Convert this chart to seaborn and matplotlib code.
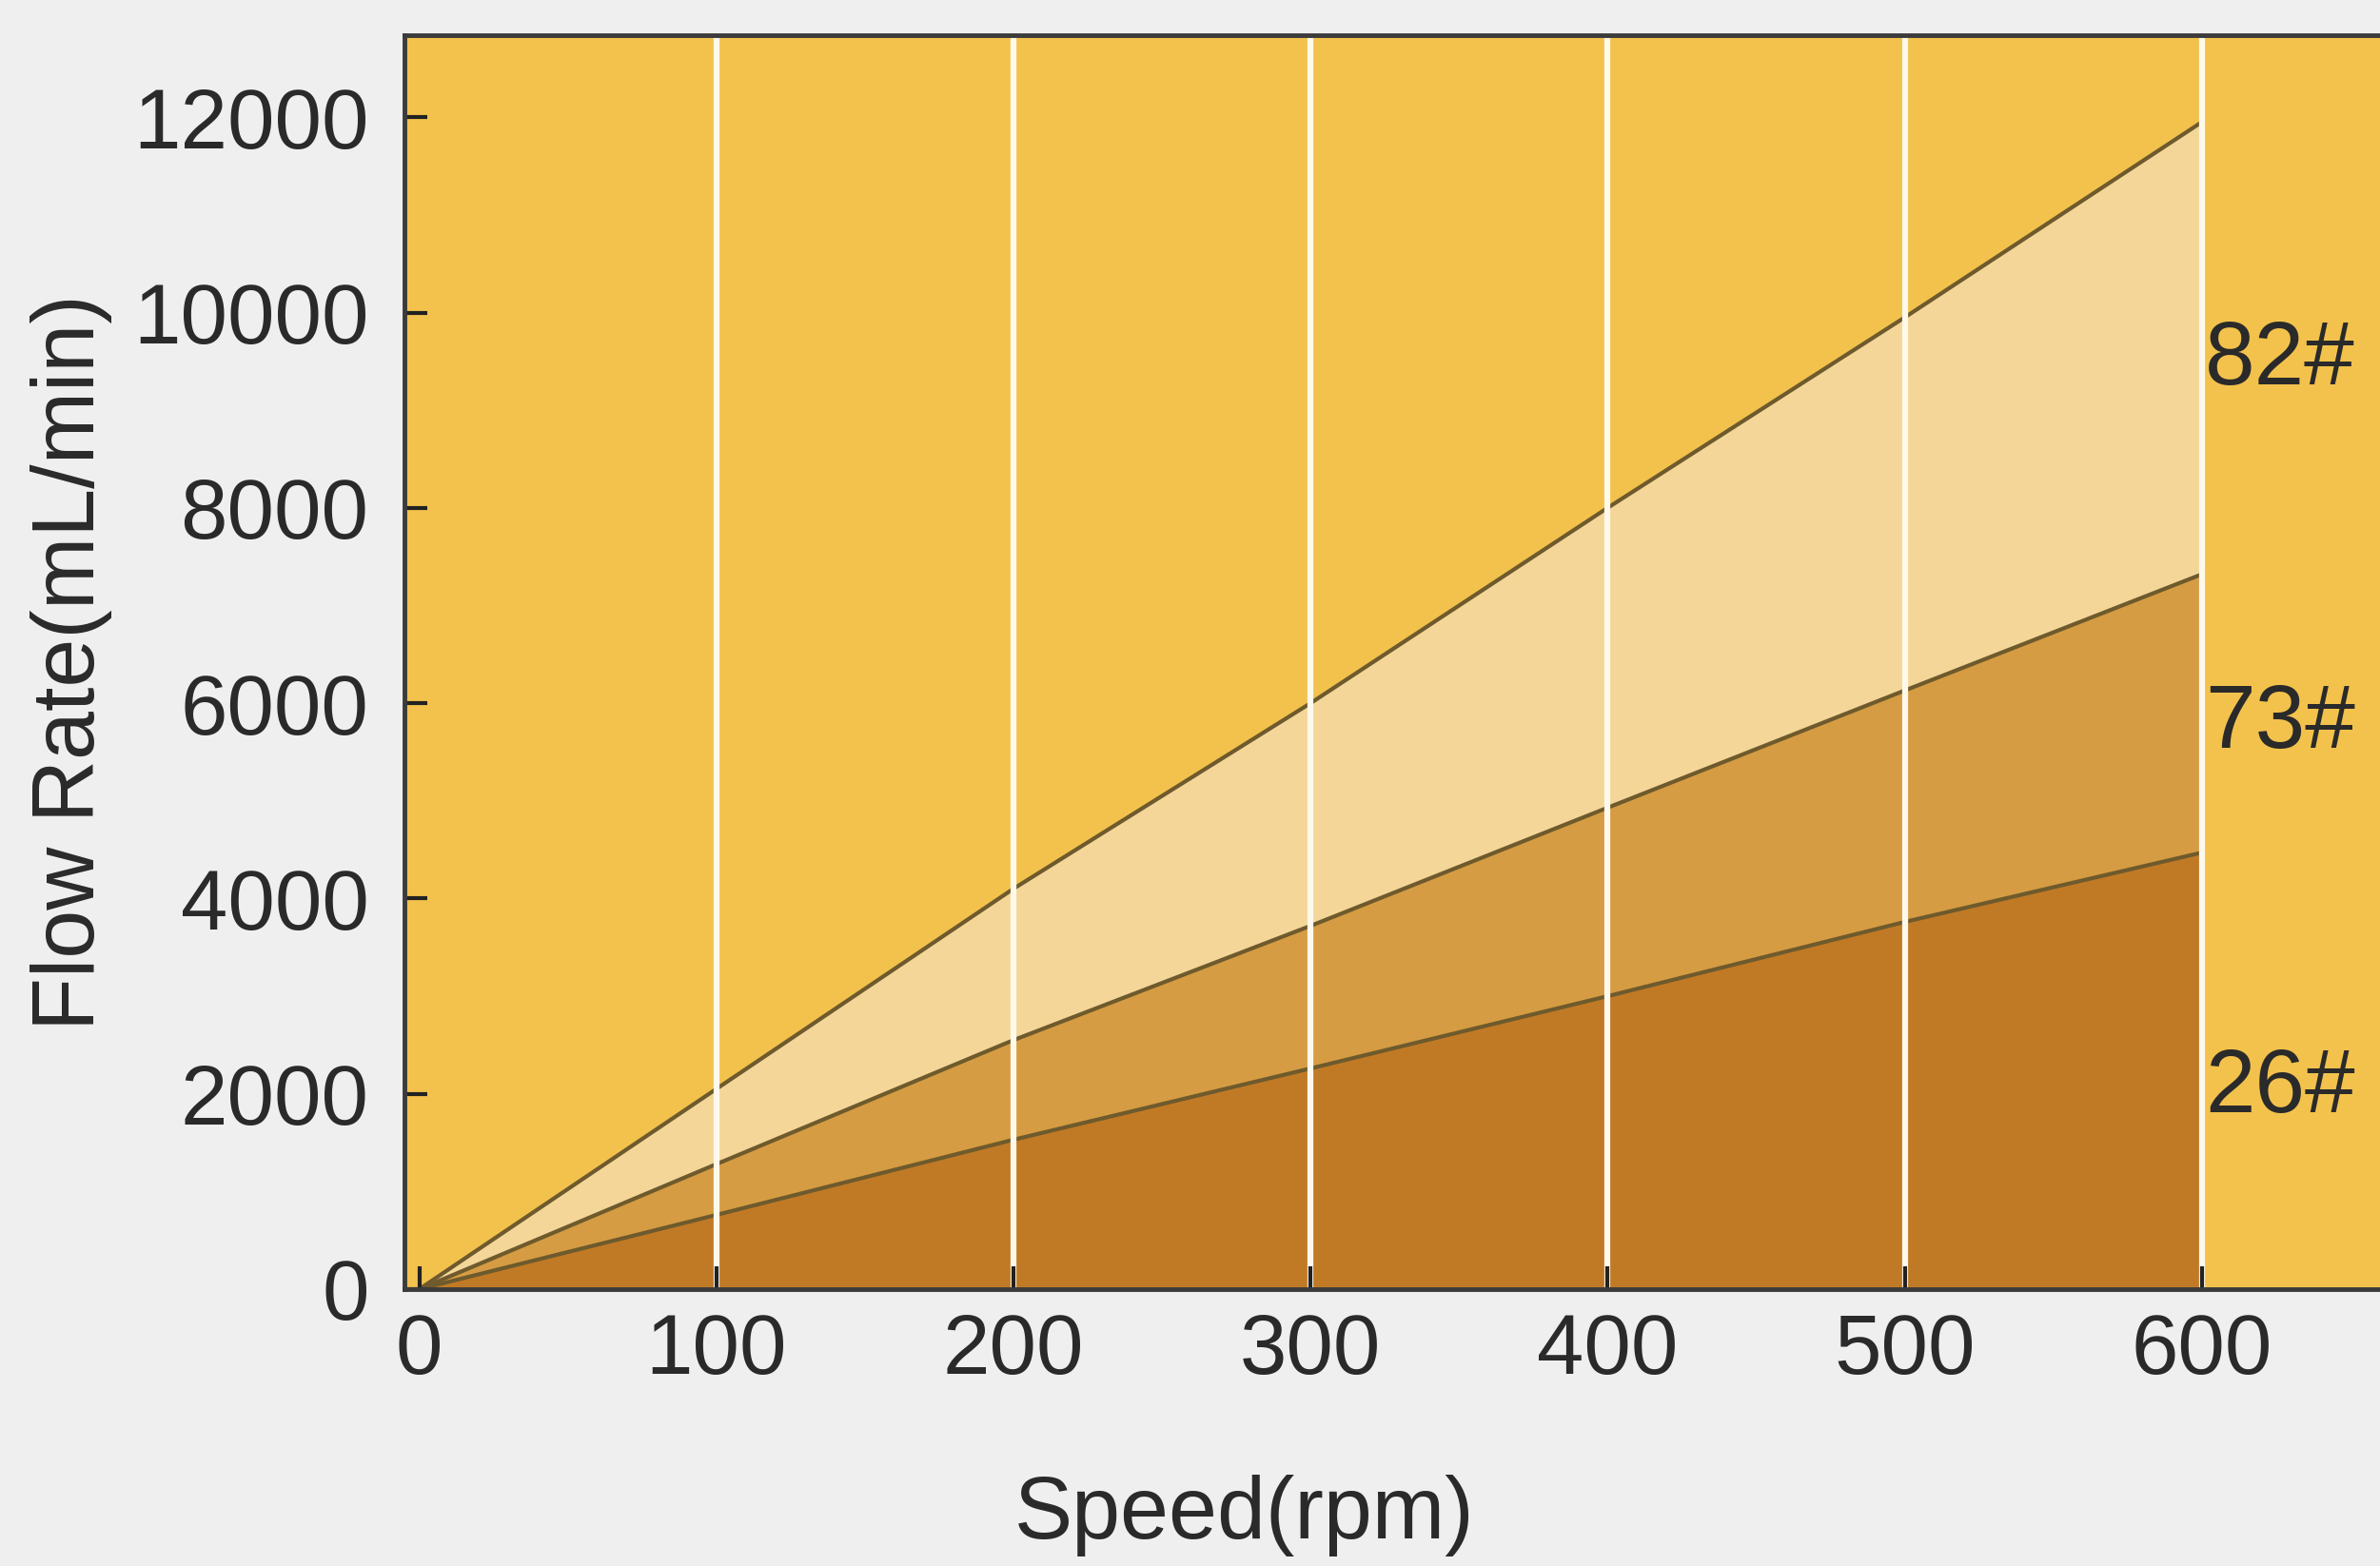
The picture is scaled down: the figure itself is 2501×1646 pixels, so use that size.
import matplotlib
matplotlib.use("Agg")
import matplotlib.pyplot as plt
import seaborn as sns
import pandas as pd

# ---- data ----
speed = [0, 100, 200, 300, 400, 500, 600]
flow_82 = [0, 2050, 4100, 6000, 8000, 9950, 11950]
flow_73 = [0, 1280, 2550, 3720, 4930, 6130, 7320]
flow_26 = [0, 760, 1530, 2260, 3000, 3760, 4470]
series_names = ["82#", "73#", "26#"]
label_y = [9500, 5780, 2050]
x_ticks = [0, 100, 200, 300, 400, 500, 600]
y_ticks = [0, 2000, 4000, 6000, 8000, 10000, 12000]
x_label = "Speed(rpm)"
y_label = "Flow Rate(mL/min)"

sns.set_style("white")
plt.rcParams['font.family'] = ['Liberation Sans', 'DejaVu Sans']
plt.rcParams['xtick.direction'] = 'in'
plt.rcParams['ytick.direction'] = 'in'

text_color = '#2a2a2a'
bg_color = '#F3C24C'
fill_colors = {'82#': '#F4D699', '73#': '#D59C43', '26#': '#C07A26'}
line_color = '#6e5a2c'

W, H = 2501, 1646
fig = plt.figure(figsize=(W / 100, H / 100), dpi=100, facecolor='#EFEFEF')
left, right, top, bottom = 425, W, 37, 1355
ax = fig.add_axes([left / W, 1 - bottom / H, (right - left) / W, (bottom - top) / H])
ax.set_facecolor(bg_color)
ax.set_axisbelow(False)

# stacked bands
ax.fill_between(speed, 0, flow_26, color=fill_colors['26#'], lw=0, zorder=1)
ax.fill_between(speed, flow_26, flow_73, color=fill_colors['73#'], lw=0, zorder=1)
ax.fill_between(speed, flow_73, flow_82, color=fill_colors['82#'], lw=0, zorder=1)

# boundary lines via seaborn
df = pd.DataFrame({
    'speed': speed * 3,
    'flow': flow_82 + flow_73 + flow_26,
    'series': [n for n in series_names for _ in speed],
})
sns.lineplot(data=df, x='speed', y='flow', hue='series',
             palette={n: line_color for n in series_names},
             legend=False, ax=ax, lw=3, zorder=2)

# vertical white grid lines (not at 0)
ax.vlines(x_ticks[1:], 0, 1, transform=ax.get_xaxis_transform(),
          colors='#FFF9EC', lw=4.5, zorder=2.2)

ax.set_xlim(-5, 660)
ax.set_ylim(0, 12840)
ax.set_xticks(x_ticks)
ax.set_yticks(y_ticks)
ax.set_xticklabels([str(v) for v in x_ticks])
ax.set_yticklabels([str(v) for v in y_ticks])

ax.tick_params(bottom=True, left=True, top=False, right=False,
               direction='in', length=17, width=3, color='#222222',
               labelsize=64, labelcolor=text_color)
ax.tick_params(axis='x', pad=17)
ax.tick_params(axis='y', pad=27)

for side in ['left', 'bottom', 'top']:
    ax.spines[side].set_visible(True)
    ax.spines[side].set_linewidth(3.5)
    ax.spines[side].set_color('#3b3b3b')
    ax.spines[side].set_zorder(3)
ax.spines['right'].set_visible(False)

ax.set_xlabel(x_label, fontsize=66, color=text_color)
ax.set_ylabel(y_label, fontsize=66, color=text_color)
ax.xaxis.set_label_coords(0.425, -0.148)
ax.yaxis.set_label_coords(-0.148, 0.5)

for name, yv in zip(series_names, label_y):
    ax.text(601, yv, name, fontsize=68, color=text_color,
            ha='left', va='center', zorder=4)

fig.savefig('out.png', dpi=100, facecolor=fig.get_facecolor())
